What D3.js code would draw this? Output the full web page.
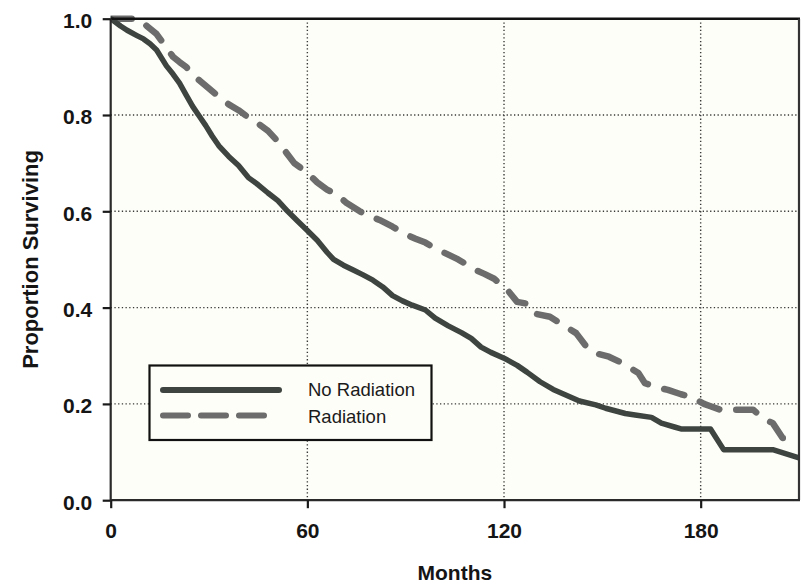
<!DOCTYPE html>
<html>
<head>
<meta charset="utf-8">
<script src="https://cdn.jsdelivr.net/npm/d3@7/dist/d3.min.js"></script>
<style>
  html, body { margin: 0; padding: 0; background: #ffffff; }
  svg { display: block; }
</style>
</head>
<body>
<svg id="chart" width="802" height="586"></svg>
<script>
// Kaplan-Meier survival estimates (months, proportion surviving)
const noRadMonths = [0, 3, 5, 8, 10, 12, 14, 17, 19, 21, 23, 25, 27, 29, 31, 33, 36, 39, 42, 45, 48, 51, 54, 57, 60, 63, 66, 68, 71, 74, 77, 80, 83, 86, 89, 92, 96, 99, 103, 107, 110, 113, 116, 120, 124, 127, 131, 135, 139, 143, 148, 151, 157, 160, 165, 168, 172, 174, 183, 187, 202, 210];
const noRadSurv   = [1.0, 0.985, 0.976, 0.965, 0.958, 0.948, 0.935, 0.902, 0.885, 0.866, 0.842, 0.818, 0.798, 0.778, 0.756, 0.736, 0.714, 0.695, 0.670, 0.655, 0.638, 0.622, 0.600, 0.580, 0.560, 0.540, 0.515, 0.500, 0.488, 0.478, 0.468, 0.457, 0.443, 0.425, 0.414, 0.405, 0.395, 0.378, 0.362, 0.348, 0.336, 0.318, 0.307, 0.295, 0.280, 0.266, 0.246, 0.230, 0.218, 0.206, 0.198, 0.191, 0.180, 0.177, 0.172, 0.160, 0.152, 0.148, 0.148, 0.105, 0.105, 0.088];

const radMonths = [0, 8, 11, 14, 17, 19, 21, 23, 25, 27, 30, 33, 36, 39, 42, 45, 48, 51, 54, 56, 60, 63, 66, 69, 72, 76, 79, 82, 86, 90, 93, 96, 99, 103, 106, 109, 112, 114, 117, 121, 124, 127, 129, 134, 138, 142, 145, 148, 152, 156, 161, 163, 167, 170, 174, 177, 181, 183, 186, 196, 199, 202, 205, 210];
const radSurv   = [1.0, 1.0, 0.985, 0.968, 0.940, 0.921, 0.910, 0.900, 0.885, 0.872, 0.855, 0.838, 0.822, 0.810, 0.795, 0.782, 0.767, 0.745, 0.718, 0.700, 0.680, 0.660, 0.645, 0.635, 0.617, 0.600, 0.590, 0.582, 0.568, 0.552, 0.543, 0.535, 0.523, 0.510, 0.500, 0.488, 0.476, 0.470, 0.460, 0.437, 0.412, 0.408, 0.388, 0.381, 0.364, 0.347, 0.320, 0.305, 0.298, 0.285, 0.264, 0.243, 0.234, 0.229, 0.220, 0.215, 0.200, 0.195, 0.188, 0.188, 0.170, 0.160, 0.129, 0.129];

const xTicks = [0, 60, 120, 180];
const yTicks = [0.0, 0.2, 0.4, 0.6, 0.8, 1.0];
const seriesNames = ["No Radiation", "Radiation"];

const svg = d3.select("#chart");
const pLeft = 110.7, pRight = 799, pTop = 18.7, pBottom = 500.2;

const x = d3.scaleLinear().domain([0, 210]).range([pLeft, pRight]);
const y = d3.scaleLinear().domain([0, 1]).range([pBottom, pTop]);

const fontFamily = "'Liberation Sans', Arial, Helvetica, sans-serif";
const panelFill = "#fefef8";

// plot panel
svg.append("rect")
  .attr("x", pLeft).attr("y", pTop)
  .attr("width", pRight - pLeft).attr("height", pBottom - pTop)
  .attr("fill", panelFill);

// dotted grid
const grid = svg.append("g")
  .attr("stroke", "#3a3a3a")
  .attr("stroke-width", 1.4)
  .attr("stroke-dasharray", "1.3,2.4")
  .attr("fill", "none");
grid.selectAll("line.gx").data(xTicks.filter(d => d > 0)).join("line")
  .attr("class", "gx")
  .attr("x1", d => x(d)).attr("x2", d => x(d))
  .attr("y1", pTop).attr("y2", pBottom);
grid.selectAll("line.gy").data(yTicks.filter(d => d > 0 && d < 1)).join("line")
  .attr("class", "gy")
  .attr("x1", pLeft).attr("x2", pRight)
  .attr("y1", d => y(d)).attr("y2", d => y(d));

// legend
const lg = svg.append("g");
lg.append("rect")
  .attr("x", 149.5).attr("y", 365.5)
  .attr("width", 282).attr("height", 74.5)
  .attr("fill", panelFill)
  .attr("stroke", "#111").attr("stroke-width", 2.2);
lg.append("line")
  .attr("x1", 163).attr("x2", 279).attr("y1", 390).attr("y2", 390)
  .attr("stroke", "#3e4541").attr("stroke-width", 6).attr("stroke-linecap", "round");
lg.append("line")
  .attr("x1", 163).attr("x2", 265).attr("y1", 415.5).attr("y2", 415.5)
  .attr("stroke", "#6c6c6c").attr("stroke-width", 6).attr("stroke-linecap", "round")
  .attr("stroke-dasharray", "25,13");
lg.selectAll("text").data(seriesNames).join("text")
  .attr("x", 308).attr("y", (d, i) => 396 + i * 27.3)
  .attr("font-family", fontFamily).attr("font-size", 18.5)
  .attr("fill", "#1b1b1b")
  .text(d => d);

// survival curves
const line = d3.line().x(d => x(d[0])).y(d => y(d[1])).curve(d3.curveLinear);
const clipId = "panel-clip";
svg.append("clipPath").attr("id", clipId).append("rect")
  .attr("x", pLeft).attr("y", pTop - 4).attr("width", pRight - pLeft).attr("height", pBottom - pTop + 4);

const curves = svg.append("g").attr("clip-path", `url(#${clipId})`);
curves.append("path")
  .datum(d3.zip(radMonths, radSurv))
  .attr("d", line)
  .attr("fill", "none")
  .attr("stroke", "#6c6c6c").attr("stroke-width", 6.5)
  .attr("stroke-linecap", "round").attr("stroke-linejoin", "round")
  .attr("stroke-dasharray", "21,17");
curves.append("path")
  .datum(d3.zip(noRadMonths, noRadSurv))
  .attr("d", line)
  .attr("fill", "none")
  .attr("stroke", "#3e4541").attr("stroke-width", 5.5)
  .attr("stroke-linecap", "round").attr("stroke-linejoin", "round");

// frame: heavy top and right edges
svg.append("line")
  .attr("x1", pLeft).attr("x2", pRight + 1).attr("y1", pTop).attr("y2", pTop)
  .attr("stroke", "#111").attr("stroke-width", 2.6);
svg.append("line")
  .attr("x1", pRight).attr("x2", pRight).attr("y1", pTop).attr("y2", pBottom)
  .attr("stroke", "#333").attr("stroke-width", 2.2);

// axes
const yAxis = svg.append("g")
  .attr("transform", `translate(${pLeft},0)`)
  .call(d3.axisLeft(y).tickValues(yTicks).tickFormat(d3.format(".1f")).tickSize(8).tickPadding(10.5));
const xAxis = svg.append("g")
  .attr("transform", `translate(0,${pBottom})`)
  .call(d3.axisBottom(x).tickValues(xTicks).tickFormat(d3.format("d")).tickSize(8).tickPadding(15));

[yAxis, xAxis].forEach(g => {
  g.select(".domain").attr("stroke", "#2a2a2a").attr("stroke-width", 2.2);
  g.selectAll(".tick line").attr("stroke", "#1a1a1a").attr("stroke-width", 2.2);
  g.selectAll(".tick text")
    .attr("font-family", fontFamily).attr("font-size", 21).attr("font-weight", "bold")
    .attr("fill", "#151515");
});
yAxis.select(".domain").attr("d", `M0,${pTop}V${pBottom}`);
xAxis.select(".domain").attr("d", `M${pLeft},0H${pRight + 1}`);
yAxis.selectAll(".tick text").attr("dy", "0.42em");

// axis titles
svg.append("text")
  .attr("x", (pLeft + pRight) / 2).attr("y", 580)
  .attr("text-anchor", "middle")
  .attr("font-family", fontFamily).attr("font-size", 21).attr("font-weight", "bold")
  .attr("fill", "#151515")
  .text("Months");
svg.append("text")
  .attr("transform", `translate(38,${(pTop + pBottom) / 2}) rotate(-90)`)
  .attr("text-anchor", "middle")
  .attr("font-family", fontFamily).attr("font-size", 22).attr("font-weight", "bold")
  .attr("fill", "#151515")
  .text("Proportion Surviving");
</script>
</body>
</html>
